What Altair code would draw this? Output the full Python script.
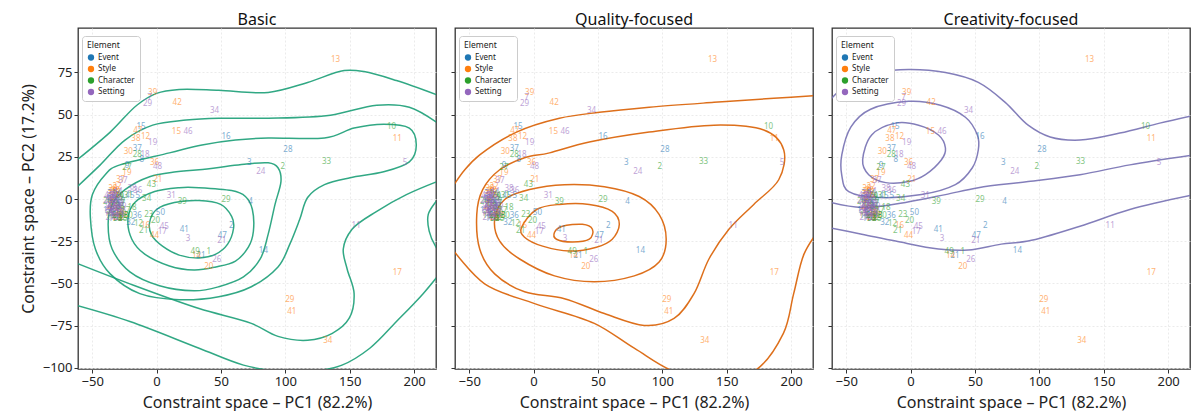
import altair as alt
import pandas as pd

FONT = "Noto Sans"
ELEMENTS = ["Event", "Style", "Character", "Setting"]
ELEMENT_COLORS = ["#1f77b4", "#ff7f0e", "#2ca02c", "#9467bd"]
PANEL_TITLES = ["Basic", "Quality-focused", "Creativity-focused"]
PANEL_LINE_COLORS = ["#1b9e77", "#d95f02", "#7570b3"]
X_TITLE = "Constraint space – PC1 (82.2%)"
Y_TITLE = "Constraint space – PC2 (17.2%)"
X_DOMAIN = [-61, 217]
Y_DOMAIN = [-100.6, 101.2]
X_TICKS = [-50, 0, 50, 100, 150, 200]
Y_TICKS = [-100, -75, -50, -25, 0, 25, 50, 75]

# ---------------- points (shared by all panels) ----------------
EVENT_LABELS = [15, 16, 28, 3, 4, 2, 47, 41, 50, 14, 21, 37, 8, 45, 5, 32, 36, 9,
                1, 6, 7, 10, 11, 12, 13, 17, 18, 19, 20, 22, 23, 24, 25]
EVENT_X = [-12, 54, 102, 72, 73, 58, 51, 21.5, 3, 83, 34.5, -15, -11.5, -20.7, -14.6, -20, -15, -23,
           -35, -33, -37, -31, -34, -29, -36, -28, -32, -38, -27, -30, -35, -33, -31]
EVENT_Y = [42.5, 36.7, 29, 21.4, -1.5, -16, -22, -18.5, -8.5, -31, -33.7, 29.6, 23, 2, 1.5, -14, -10, 19.5,
           -6, -10, -3, -12, -12, -11, -1, -2, -4, -7, -9, -3, 3, 0, -8]

STYLE_LABELS = [13, 39, 42, 47, 38, 12, 15, 30, 36, 19, 21, 22, 16, 44, 14, 20, 11, 17, 29, 41, 34, 26, 37,
                1, 2, 3, 4, 5, 6, 7, 8, 9, 10, 18, 24, 25, 27, 28, 31]
STYLE_X = [139, -3, 16, -14.6, -16, -8.6, 15.4, -22, -1.5, -23, 1, -30.7, -8.5, -1.5, 31, 40.6, 187, 187, 103.5, 105, 133, -34, -28,
           -33, -36, -31, -30, -34, -28, -37, -32, -35, -29, -32, -26, -30, -33, -34, -27]
STYLE_Y = [82, 63, 56.6, 40, 35.5, 36.7, 39.6, 28, 21.4, 15.6, 11, 7.3, -16, -22, -33.7, -40, 35.5, -44, -59.6, -67, -84, 4, 11,
           -12, -4, -9, 2, -3, -12, -8, -5, -1, -9, 5, -10, -11, 1, 6, -7]

CHAR_LABELS = [10, 33, 2, 29, 39, 34, 43, 28, 27, 18, 23, 20, 21, 12, 49, 1, 31,
               3, 4, 6, 7, 8, 9, 11, 13, 14, 15, 16, 17, 19, 22, 24, 25, 26, 30, 32, 35]
CHAR_X = [182.5, 132, 98, 54, 20, -7.7, -4, -15, -23, -19, -6, -0.8, -10, -14, 30, 40.6, -22,
          -30, -28, -32, -26, -34, -27, -29, -25, -31, -26, -36, -24, -33, -27, -29, -31, -38, -22, -30, -28]
CHAR_Y = [42.5, 22, 19, -0.3, -2, 0.3, 8.5, 26, 18.5, -5.6, -9.7, -13, -19, -15, -31.4, -31.4, 2,
          -5, 0, -1, -3, -7, 1, -7, -10, 3, -12, -10, -7, -3, -11, 2, -10, -2, -10, -12, -5]

SETTING_LABELS = [7, 29, 34, 46, 19, 18, 48, 24, 5, 31, 38, 36, 37, 45, 17, 3, 21, 26, 11,
                  1, 2, 4, 6, 8, 9, 10, 12, 13, 14, 15, 16, 20, 22, 23, 25, 27, 28, 30, 32, 33, 35, 39, 40, 41, 42, 43, 44, 49, 50]
SETTING_X = [-5.4, -7, 45, 24.5, -3, -9, 0.8, 81, 193, 11.5, -19, -14.6, -26, 6, 4.4, 24.5, 50.6, 46.8, 155,
             -36, -34, -37, -33, -35, -38, -32, -36, -34, -31, -37, -33, -35, -30, -38, -32, -36, -29, -34, -31, -29, -30, -33, -37, -28, -32, -35, -30, -27, -36]
SETTING_Y = [59.6, 56, 52, 39.6, 33, 26, 19, 16, 21.4, 2, 6, 5, 10.8, -16.7, -19.6, -23.8, -25, -36, -16,
             -3, -5, -6, -2, -8, -4, -6, 0, -1, -4, -9, -9, 1, -1, -1, 2, -11, -8, 3, 0, -3, -6, -7, 2, -10, -11, -5, 4, -5, -7]

# ---------------- density contours ----------------
BASIC_LOOPS_X = [
    [-5.4, 0, 13.8, 33, 49.8, 58.3, 59.8, 55.2, 46, 33, 17.6, 4.6, -3.8],
    [-22.2, -16.9, -1.5, 17.6, 33, 58.3, 69, 74.4, 75.2, 71.3, 61.3, 46, 29.1, 10, -9.2, -19.2],
    [33, 71.3, 86.7, 94.3, 96.6, 92, 86.7, 80.5, 67.5, 48.3, 29.1, 2.3, -20.7, -34.5, -37.6, -34.5, -24.5, -5.4, 15.3],
    [-51.4, -49.8, -39.9, -28.4, 10, 35.3, 61.3, 86.7, 130.4, 153.4, 176.4, 196.3, 201.7, 196.3, 176.4, 150.3, 130.4,
     117.3, 111.2, 103.5, 94.3, 73.6, 48.3, 17.6, -13, -36, -47.5],
]
BASIC_LOOPS_Y = [
    [-13.8, -6.2, -2.1, -0.9, -3.2, -10.3, -17.3, -26.7, -32.6, -34.9, -33.2, -27.9, -21.4],
    [-12, -2.1, 4.4, 6.7, 6.7, 5, 1.5, -6.2, -19.1, -28.5, -36.7, -40.2, -42, -39.6, -32.6, -23.8],
    [17.3, 20.8, 21.4, 18.5, 10.3, -3.2, -20.8, -35.5, -46.1, -51.9, -54.3, -51.3, -43.1, -29.6, -15, -3.2, 5.6, 13.2, 16.1],
    [-10.9, 2.6, 14.4, 20.2, 27.3, 32, 34.9, 36.1, 36.1, 42, 44.3, 42, 32, 22, 16.1, 12.6, 8.5,
     0.9, -12, -26.7, -40.2, -51.9, -57.8, -59.6, -56, -44.3, -29.6],
]
BASIC_OPEN_X = [
    [-62, -43.7, -24.5, -3, 23, 48.3, 86.7, 135, 171, 196.3, 220],
    [-62, -20.7, 33, 73.6, 94.3, 117.3, 136.5, 149.5, 153.4, 148, 145, 151.8, 171, 194, 220],
    [-62, -36, -15.3, 0, 17.6, 48.3, 86.7, 117.3, 145.7, 161, 186.3, 220],
    [-62, -20.7, 33, 67.5, 95, 121, 144, 165.6, 186.3, 207, 220],
    [222, 217, 211, 211.7, 217, 222],
]
BASIC_OPEN_Y = [
    [7, 20.2, 34.9, 43.7, 46.7, 47.8, 47.8, 49.6, 55.5, 54.3, 44],
    [-38, -50.2, -64.8, -73.6, -81.3, -83.6, -79.5, -70.7, -56, -41.4, -29.6, -17.9, -7.3, 2.6, 11],
    [23, 39.6, 55.5, 62.5, 64.8, 64.3, 63.1, 69, 76, 75.4, 70.1, 61],
    [-63, -72.5, -88.3, -98.3, -102, -102, -98.3, -88.3, -72.5, -56, -44],
    [3, -1.5, -9.1, -19, -28.5, -33],
]

QUALITY_LOOPS_X = [
    [16.3, 22.4, 37.9, 45.7, 43.3, 30.2, 17.8],
    [-9.3, 2.3, 20.1, 43.3, 61.1, 66.6, 61.1, 48.8, 27.9, 7, -7],
    [-30.2, -22.4, -3.1, 24, 55, 82, 97.5, 103, 97.5, 78.2, 47.2, 16.3, -10.8, -26.3],
    [-44.1, -39.5, -26.3, -7, 12.4, 43.3, 89.8, 140.1, 178.8, 194.3, 190.4, 171, 151.7, 136.2, 124.6, 109.1,
     85.9, 55, 24, -7, -30.2, -41.8],
]
QUALITY_LOOPS_Y = [
    [-19.7, -16.1, -15, -17.9, -23.8, -25.5, -23.8],
    [-16.7, -6.2, -3.2, -3.2, -7.3, -15, -23.8, -28.5, -30.8, -27.9, -22.6],
    [-12, -0.3, 5.6, 8.5, 7.3, 1.5, -9.1, -23.8, -37.3, -45.5, -49, -45.5, -35.5, -24.9],
    [-9.1, 5.6, 17.3, 24.4, 27.3, 33.7, 39.6, 43.7, 40.8, 29, 11.4, -3.2, -17.9, -35.5, -56, -70.7,
     -74.8, -67.8, -59, -54.9, -44.3, -29.6],
]
QUALITY_OPEN_X = [
    [-64.2, -53.4, -41.8, -13.2, 20.1, 51.1, 89.8, 140.1, 186.5, 221.4],
    [-63, -38, 0.8, 47.2, 78.2, 109, 140, 171, 194, 202, 210, 220],
]
QUALITY_OPEN_Y = [
    [5.6, 17.3, 26.1, 39.6, 47.8, 51.3, 54.3, 57.2, 59.6, 61.3],
    [-29.6, -50.2, -61.9, -73.6, -88.3, -102, -106, -102, -79.5, -56, -32.6, -20],
]

CREATIVITY_LOOPS_X = [
    [-30.2, -11.6, 6.2, 21.7, 27.1, 24, 11.6, -1.5, -19.3, -32.5, -37.2],
    [-53.4, -46.4, -31, -1.5, 23.2, 42.6, 51.9, 52.6, 48, 34.8, 8.5, -24.8, -48, -53.4],
]
CREATIVITY_LOOPS_Y = [
    [37.9, 44.9, 43.7, 37.9, 30.2, 23.2, 14.4, 10.3, 9.7, 14.4, 23.2],
    [26.1, 42.5, 53.1, 57.8, 55.5, 48.4, 37.9, 29, 18.5, 8.5, 2.6, 0.9, 4.4, 14],
]
CREATIVITY_OPEN_X = [
    [-65, -48, -24.8, -1.5, 27.1, 52.6, 73.5, 91.3, 108.4, 131.6, 162.5, 193.5, 220.6],
    [-65, -37.9, -3.9, 27.1, 52.6, 91.3, 131.6, 170.3, 220.6],
    [-65, -37.9, -11.6, 21.7, 44.9, 70.4, 91.3, 131.6, 170.3, 220.6],
]
CREATIVITY_OPEN_Y = [
    [56.6, 68.4, 74.8, 76.6, 74.8, 69, 57.2, 43.7, 36.7, 34.9, 39, 44.9, 49.6],
    [-1.5, -5, -2, 2.6, 6.7, 10.3, 14.4, 20.2, 26.1],
    [-16.7, -20.8, -24.9, -29.6, -30.2, -26.7, -24.9, -16.1, -6.2, 2.6],
]

# ---------------- tables ----------------
rows = []
for elem, labs, xs, ys in [
    ("Event", EVENT_LABELS, EVENT_X, EVENT_Y),
    ("Style", STYLE_LABELS, STYLE_X, STYLE_Y),
    ("Character", CHAR_LABELS, CHAR_X, CHAR_Y),
    ("Setting", SETTING_LABELS, SETTING_X, SETTING_Y),
]:
    for lab, x, y in zip(labs, xs, ys):
        rows.append({"element": elem, "label": str(lab), "x": x, "y": y})
points = pd.DataFrame(rows)


def contour_table(xs_list, ys_list):
    out = []
    for cid, (xs, ys) in enumerate(zip(xs_list, ys_list)):
        for i, (x, y) in enumerate(zip(xs, ys)):
            out.append({"cid": cid, "idx": i, "x": x, "y": y})
    return pd.DataFrame(out)


def panel(i, loops_x, loops_y, open_x, open_y):
    first = i == 0
    xenc = alt.X("x:Q", scale=alt.Scale(domain=X_DOMAIN, nice=False, zero=False),
                 axis=alt.Axis(values=X_TICKS, title=X_TITLE))
    if first:
        yaxis = alt.Axis(values=Y_TICKS, title=Y_TITLE)
    else:
        yaxis = alt.Axis(values=Y_TICKS, title=None, labels=False)
    yenc = alt.Y("y:Q", scale=alt.Scale(domain=Y_DOMAIN, nice=False, zero=False), axis=yaxis)

    loops = alt.Chart(contour_table(loops_x, loops_y)).mark_line(
        interpolate="cardinal-closed", clip=True, color=PANEL_LINE_COLORS[i],
        strokeWidth=1.5, opacity=0.9
    ).encode(x=xenc, y=yenc, detail="cid:N", order="idx:Q")
    opens = alt.Chart(contour_table(open_x, open_y)).mark_line(
        interpolate="catmull-rom", clip=True, color=PANEL_LINE_COLORS[i],
        strokeWidth=1.5, opacity=0.9
    ).encode(x=xenc, y=yenc, detail="cid:N", order="idx:Q")
    texts = alt.Chart(points).mark_text(fontSize=8, opacity=0.6, font=FONT).encode(
        x=xenc, y=yenc, text="label:N",
        color=alt.Color("element:N", scale=alt.Scale(domain=ELEMENTS, range=ELEMENT_COLORS),
                        legend=alt.Legend(title="Element", orient="none", legendX=4, legendY=8,
                                          symbolType="circle", symbolSize=40, symbolOpacity=1,
                                          symbolStrokeWidth=0,
                                          titleFontSize=8.5, labelFontSize=8, titleFontWeight="normal",
                                          titleFont=FONT, labelFont=FONT, titleColor="#222", labelColor="#222",
                                          padding=5, rowPadding=3.5, titlePadding=4, labelOffset=3,
                                          strokeColor="#cccccc", fillColor="#ffffff", cornerRadius=3)),
    )
    return alt.layer(loops, opens, texts).properties(
        width=358, height=341,
        title=alt.TitleParams(PANEL_TITLES[i], fontSize=16, font=FONT, fontWeight="normal",
                              color="#111", offset=0),
    )


chart = alt.hconcat(
    panel(0, BASIC_LOOPS_X, BASIC_LOOPS_Y, BASIC_OPEN_X, BASIC_OPEN_Y),
    panel(1, QUALITY_LOOPS_X, QUALITY_LOOPS_Y, QUALITY_OPEN_X, QUALITY_OPEN_Y),
    panel(2, CREATIVITY_LOOPS_X, CREATIVITY_LOOPS_Y, CREATIVITY_OPEN_X, CREATIVITY_OPEN_Y),
    spacing=12,
).resolve_scale(color="independent").resolve_legend(color="independent").properties(
    padding={"left": 11, "top": 3, "right": 0, "bottom": 0}
).configure_view(
    stroke="#333333", strokeWidth=1.3
).configure_axis(
    domain=False, tickColor="#333333", tickSize=4, tickWidth=1,
    labelFont=FONT, labelFontSize=13, labelColor="#222222",
    titleFont=FONT, titleFontSize=16, titleFontWeight="normal", titleColor="#222222",
    gridColor="#e6e6e6", gridDash=[2, 2], gridWidth=0.8, labelPadding=2, titlePadding=6,
)

chart.save("out.html", embed_options={"renderer": "svg", "actions": False})
